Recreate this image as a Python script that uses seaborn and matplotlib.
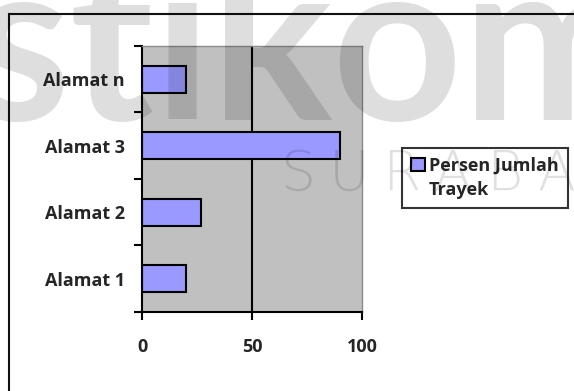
import numpy as np
import matplotlib
matplotlib.use("Agg")
import matplotlib.pyplot as plt
import seaborn as sns
from matplotlib.patches import Rectangle, Patch

categories = ['Alamat n', 'Alamat 3', 'Alamat 2', 'Alamat 1']
persen = [20, 90, 27, 20]
x_ticks = [0, 50, 100]
series_label = 'Persen Jumlah'
series_label_2 = 'Trayek'
watermark = 'stikom'
watermark_sub = 'SURABAYA'

sns.set_style('white')
plt.rcParams['font.family'] = ['Open Sans', 'DejaVu Sans']
plt.rcParams['font.weight'] = 'bold'

W, H = 574, 391
fig = plt.figure(figsize=(W / 100, H / 100), dpi=100)
ax = fig.add_axes([142 / W, 1 - 312 / H, 220 / W, 266 / H])
ax.set_facecolor('#c0c0c0')

sns.barplot(x=persen, y=categories, orient='h', color='#9999ff',
            edgecolor='black', linewidth=1.5, width=0.4, saturation=1, ax=ax)

ax.set_xlim(0, 100)
ax.set_ylim(3.5, -0.5)
ax.set_xticks(x_ticks)
ax.set_xlabel('')
ax.set_ylabel('')

# grid only at the inner tick
ax.set_axisbelow(True)
ax.xaxis.grid(True, color='black', linewidth=1.5)
for gl, t in zip(ax.get_xgridlines(), x_ticks):
    if t in (x_ticks[0], x_ticks[-1]):
        gl.set_visible(False)

ax.set_yticks(np.arange(-0.5, len(categories), 1), minor=True)
ax.tick_params(axis='y', which='major', length=0, pad=12.5, labelsize=13)
ax.tick_params(axis='y', which='minor', length=6, width=1.5, direction='out',
               color='black', left=True)
ax.tick_params(axis='x', which='major', length=6, width=1.5, direction='out',
               color='black', pad=13, labelsize=13, bottom=True)
for lab in ax.get_yticklabels() + ax.get_xticklabels():
    lab.set_fontweight('bold')

for side in ['left', 'bottom']:
    ax.spines[side].set_color('black')
    ax.spines[side].set_linewidth(1.5)
for side in ['right', 'top']:
    ax.spines[side].set_color('#8a8a8a')
    ax.spines[side].set_linewidth(1.0)

handles = [Patch(facecolor='#9999ff', edgecolor='black', linewidth=1.5),
           Patch(facecolor='none', edgecolor='none')]
leg = fig.legend(handles, [series_label, series_label_2], loc='upper left',
                 bbox_to_anchor=(402 / W, 1 - 148 / H), bbox_transform=fig.transFigure,
                 frameon=True, fancybox=False, edgecolor='black',
                 prop={'family': 'Open Sans', 'weight': 'bold', 'size': 13},
                 handlelength=0.75, handleheight=0.75, handletextpad=0.25,
                 labelspacing=0.35, borderpad=0.5, borderaxespad=0)
leg.get_frame().set_linewidth(1.5)

# outer frame
fig.add_artist(Rectangle((9 / W, -0.5), 2, 1 - 14 / H + 0.5, transform=fig.transFigure,
                         fill=False, edgecolor='#111111', linewidth=1.5))

# watermark
fig.text(-30 / W, 1 - 120 / H, watermark, fontsize=163, fontweight='bold',
         family='Lato', color='black', alpha=0.13, zorder=10)
for i, ch in enumerate(watermark_sub):
    fig.text((298 + i * 51.6) / W, 1 - 190 / H, ch, fontsize=40, fontweight='light',
             family='DejaVu Sans', color='black', alpha=0.12, ha='center', zorder=10)

fig.savefig('out.png', dpi=100)
